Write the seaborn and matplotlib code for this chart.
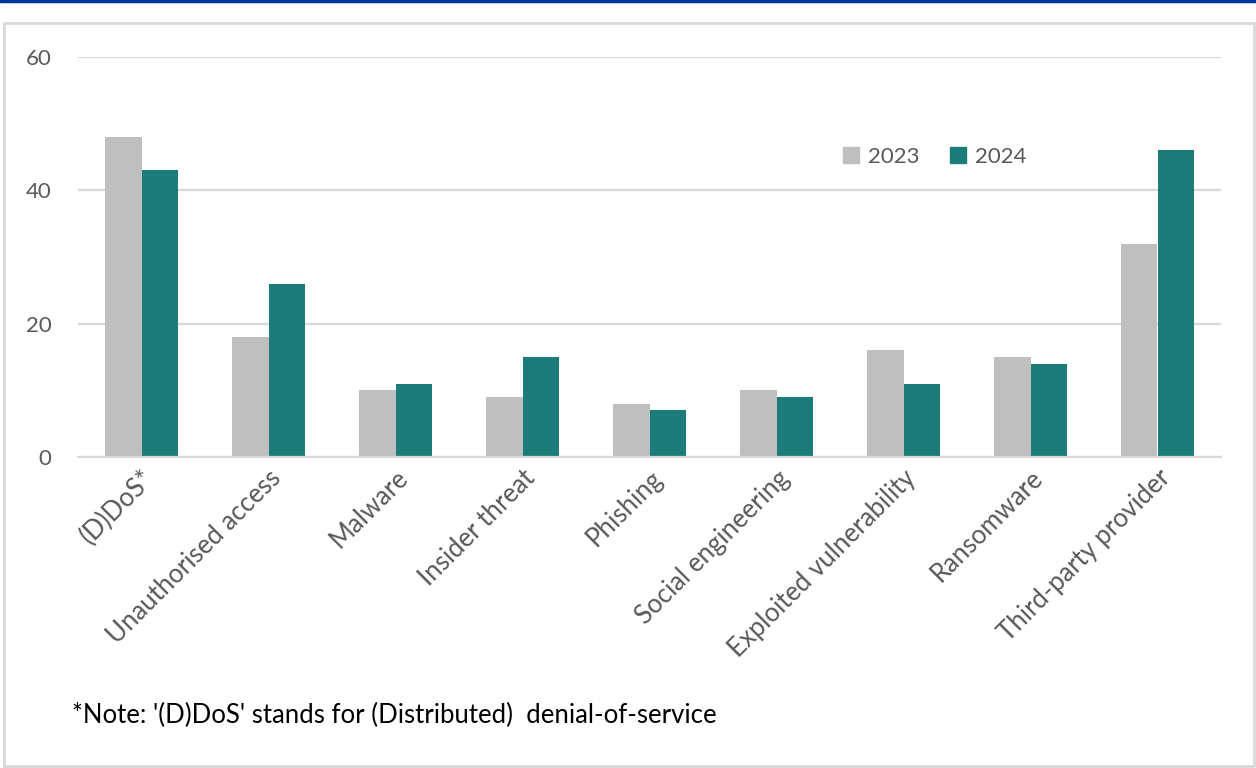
import matplotlib
matplotlib.use("Agg")
import matplotlib.pyplot as plt
import matplotlib.patches as mpatches
from matplotlib.lines import Line2D
import pandas as pd
import seaborn as sns

categories = ["(D)DoS*", "Unauthorised access", "Malware", "Insider threat", "Phishing",
              "Social engineering", "Exploited vulnerability", "Ransomware", "Third-party provider"]
values_2023 = [48, 18, 10, 9, 8, 10, 16, 15, 32]
values_2024 = [43, 26, 11, 15, 7, 9, 11, 14, 46]
years = ["2023", "2024"]
colors = {"2023": "#BFBFBF", "2024": "#1C7C7A"}
note = "*Note: '(D)DoS' stands for (Distributed)  denial-of-service"

df = pd.DataFrame({
    "category": categories * 2,
    "value": values_2023 + values_2024,
    "year": ["2023"] * len(categories) + ["2024"] * len(categories),
})

sns.set_theme(style="white")
plt.rcParams["font.family"] = ["Lato", "DejaVu Sans"]

fig = plt.figure(figsize=(12.56, 7.68), dpi=100)
ax = fig.add_axes([78 / 1256, 1 - 457 / 768, 1143 / 1256, 400 / 768])

sns.barplot(data=df, x="category", y="value", hue="year", palette=colors,
            width=0.57, gap=0, saturation=1, edgecolor="none", ax=ax)

ax.set_ylim(0, 60)
ax.set_yticks([0, 20, 40, 60])
ax.set_xlim(-0.5, len(categories) - 0.5)
ax.yaxis.grid(True, color="#D9D9D9", linewidth=1.6)
ax.set_axisbelow(True)
for s in ["top", "right", "left"]:
    ax.spines[s].set_visible(False)
ax.spines["bottom"].set_color("#D9D9D9")
ax.spines["bottom"].set_linewidth(1.6)
ax.set_xlabel("")
ax.set_ylabel("")
ax.tick_params(axis="y", length=0, pad=19, labelsize=16, labelcolor="#595959")
ax.tick_params(axis="x", length=0, pad=6, labelsize=18.5, labelcolor="#595959")
plt.setp(ax.get_xticklabels(), rotation=45, ha="right", rotation_mode="anchor")

handles = [mpatches.Patch(color=colors[y], label=y) for y in years]
ax.legend(handles=handles, loc="center left", bbox_to_anchor=(0.652, 0.75), ncol=2,
          frameon=False, fontsize=16, handlelength=0.7, handleheight=0.7,
          handletextpad=0.4, columnspacing=1.4, labelcolor="#595959")

fig.text(72 / 1256, 1 - 715 / 768, note, fontsize=18.5, color="#000000", va="center")

# outer frame and the blue rule at the top
fig.add_artist(mpatches.Rectangle((4 / 1256, 2 / 768), 1250 / 1256, 743 / 768,
                                  transform=fig.transFigure, fill=False,
                                  edgecolor="#D9D9D9", linewidth=2))
fig.add_artist(Line2D([0, 1], [1 - 1 / 768, 1 - 1 / 768], transform=fig.transFigure,
                      color="#003399", linewidth=2.5))

fig.savefig("out.png", dpi=100)
